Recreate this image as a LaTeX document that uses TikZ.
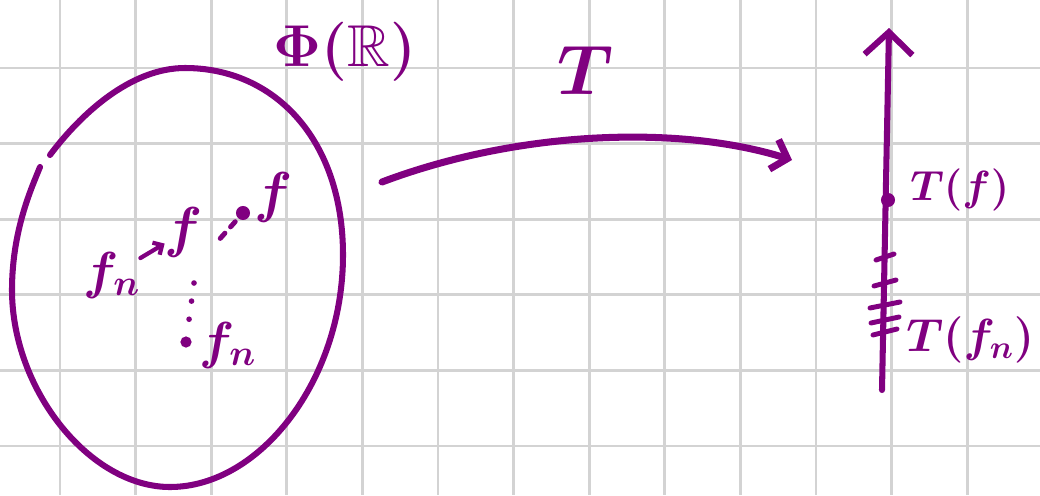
\RequirePackage{fix-cm}
\documentclass[tikz,border=0pt]{standalone}
\usepackage{amsmath,amssymb}
\usetikzlibrary{arrows.meta,calc}
\definecolor{ink}{RGB}{128,0,128}
\definecolor{gridgray}{RGB}{211,211,211}

\begin{document}
\begin{tikzpicture}[x=0.025cm,y=-0.025cm,
  pen/.style={draw=ink,line width=4.3pt,line cap=round,line join=round},
  lbl/.style={text=ink,inner sep=0pt},
  gridline/.style={draw=gridgray,line width=2pt}]
  \useasboundingbox (0,0) rectangle (1040,495);

  % grid paper
  \foreach \i in {0,...,12}
    \draw[gridline] ({60+75.6*\i},0) -- ({60+75.6*\i},495);
  \foreach \j in {0,...,5}
    \draw[gridline] (0,{68+75.6*\j}) -- (1040,{68+75.6*\j});

  % the set
  \draw[pen] (50,155) .. controls (80,115) and (130,68) .. (185,68)
    .. controls (275,68) and (343,140) .. (343,255)
    .. controls (343,380) and (260,487) .. (170,487)
    .. controls (90,487) and (12,390) .. (12,290)
    .. controls (12,230) and (32,187) .. (40,167);
  \node[lbl,font=\fontsize{42}{46}\selectfont\boldmath] (phi) at (345,52) {$\Phi(\mathbb{R})$};

  \node[lbl,font=\fontsize{37}{40}\selectfont\boldmath] (fn1) at (112,275) {$f_n$};
  \node[lbl,font=\fontsize{40}{44}\selectfont\boldmath] (f1) at (184,232) {$f$};
  \draw[pen,line width=3pt,-{Straight Barb[length=5pt,width=10pt]}] (fn1) -- (f1);

  \fill[ink] (243,213) circle (5pt) coordinate (fpt);
  \node[lbl,font=\fontsize{40}{44}\selectfont\boldmath] (f2) at (274,197) {$f$};
  \draw[pen,line width=3.5pt,dash pattern=on 5pt off 6pt,shorten <=18pt,shorten >=6pt] (f1.south east) -- (fpt);

  \coordinate (fnup) at (194,283);
  \fill[ink] (186,342) circle (4pt) coordinate (fnpt);
  \node[lbl,font=\fontsize{37}{40}\selectfont\boldmath] (fn2) at (228,345) {$f_n$};
  \draw[pen,line width=4pt,dash pattern=on 0pt off 13pt,shorten >=8pt] (fnup) -- (fnpt);

  % the map
  \coordinate (tstart) at (382,182);
  \coordinate (tend) at (792,160);
  \draw[pen,line width=5pt,-{Straight Barb[length=10pt,width=22pt]}] (tstart) .. controls (520,130) and (680,125) .. (tend);
  \node[lbl,font=\fontsize{50}{54}\selectfont\boldmath] (tlbl) at (585,70) {$T$};

  % the real line
  \coordinate (abot) at (882,390);
  \coordinate (atop) at (889,28);
  \draw[pen,-{Straight Barb[length=16pt,width=34pt]}] (abot) -- (atop);
  \fill[ink] (888,200) circle (5pt) coordinate (tfpt);
  \node[lbl,font=\fontsize{30}{34}\selectfont\boldmath,anchor=west] (tf) at (910,190) {$T(f)$};

  \foreach \y/\l in {257/9,283/11,305/15,320/14,332/12}
    \draw[pen,line width=3.5pt] ({885-\l},{\y+3}) -- ({885+\l},{\y-3});
  \node[lbl,font=\fontsize{33}{36}\selectfont\boldmath,anchor=west] (tfn) at (906,340) {$T(f_n)$};
\end{tikzpicture}
\end{document}
